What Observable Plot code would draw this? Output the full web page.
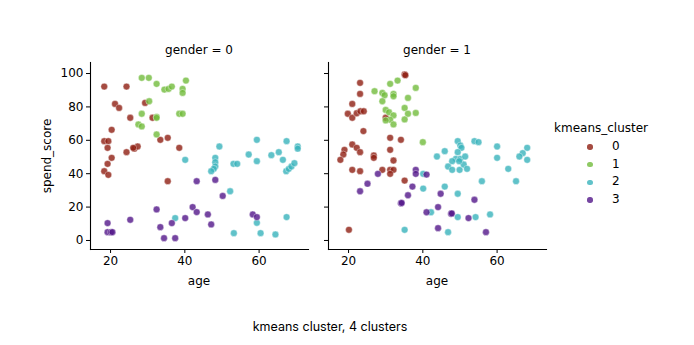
<!DOCTYPE html>
<html>
<head>
<meta charset="utf-8">
<script src="https://cdn.jsdelivr.net/npm/d3@7"></script>
<script src="https://cdn.jsdelivr.net/npm/@observablehq/plot@0.6"></script>
<style>
  body { margin: 0; background: #fff; }
  #wrap { position: relative; width: 694px; height: 345px; font-family: "DejaVu Sans", sans-serif; font-size: 12px; color: #000; }
  .abs { position: absolute; white-space: nowrap; }
  .panel { position: absolute; top: 0; }
</style>
</head>
<body>
<div id="wrap"></div>
<script>
// ---- data ----
const clusterLabels = ["0", "1", "2", "3"];
const clusterColors = ["#8e1e12", "#72bc3c", "#38b3bc", "#521689"];
const facetTitles = ["gender = 0", "gender = 1"];
const xTicks = [20, 40, 60];
const yTicks = [0, 20, 40, 60, 80, 100];

// gender = 0
const age_g0 = [
  18.3,24.3,21.2,22.3,29.3,25.3,31.3,20.3,18.3,19.4,19.2,33.4,35.4,38.5,26.4,27.3,26.1,24.3,20.3,19.2,18.3,19.4,35.4,
  28.4,30.3,32.4,34.5,35.6,36.5,40.3,39.4,39.4,30.4,28.4,32.4,32.4,38.5,39.4,27.5,28.4,32.4,
  40.1,37.4,49.3,48.2,48.2,48.2,47.8,47.1,53.1,54.1,57.2,59.4,59.4,63.3,65.3,66.4,67.4,70.4,70.4,67.3,68.0,68.7,69.5,52.2,59.4,67.4,53.2,60.4,64.4,
  19.2,19.2,20.1,20.5,25.3,32.4,33.4,34.4,36.5,37.4,40.1,43.2,42.1,43.2,46.2,47.1,48.2,50.2,58.3,59.4
];
const spend_g0 = [
  92.2,92.2,81.8,79.4,82.4,73.5,73.5,66.3,59.5,59.5,55.5,60.3,61.5,55.5,55,56.3,55.5,52.9,49.5,45.9,41.5,39.3,35.5,
  97.4,97.4,93.8,90.4,90.8,92.2,95.8,90.8,88.4,83.4,75.9,74,73.5,75.9,75.9,69.5,68.3,63.5,
  48.3,13.4,56.3,49.5,46.9,44.3,42.9,41.5,45.9,45.9,51.5,60.3,47.5,51.1,52.9,48.3,59.5,56.3,55,41.5,42.9,44.3,46.3,29.5,10.6,14,4.4,4.4,3.6,
  10.4,5,5,5,12.4,18.6,8,1.4,10.4,1.4,13.4,35.5,20,17,15.6,9.6,36.3,26.7,15.6,14
];
const cluster_g0 = [
  0,0,0,0,0,0,0,0,0,0,0,0,0,0,0,0,0,0,0,0,0,0,0,
  1,1,1,1,1,1,1,1,1,1,1,1,1,1,1,1,1,1,
  2,2,2,2,2,2,2,2,2,2,2,2,2,2,2,2,2,2,2,2,2,2,2,2,2,2,2,2,2,
  3,3,3,3,3,3,3,3,3,3,3,3,3,3,3,3,3,3,3,3
];

// gender = 1
const age_g1 = [
  35.1,35.3,23.1,23.1,21.0,19.8,21.0,22.2,23.2,24.1,24.0,30.0,31.2,34.1,31.2,18.9,18.6,17.8,21.0,22.2,23.1,26.8,26.8,32.1,21.0,23.1,29.1,31.2,32.1,31.2,35.1,20.1,
  27.0,29.1,29.7,32.1,32.1,31.2,33.2,38.1,36.0,29.1,35.1,30.0,30.9,32.1,31.2,32.1,30.0,36.0,38.1,35.1,40.0,
  40.1,40.1,35.1,49.4,50.1,50.4,49.4,48.9,50.1,51.4,53.9,55.0,60.0,60.0,45.9,43.8,47.9,46.8,47.9,49.9,51.0,51.9,49.8,68.1,66.9,66.0,68.1,63.0,65.1,55.9,45.9,49.4,42.2,49.4,54.2,58.1,46.8,
  27.9,38.1,38.1,25.1,23.1,37.2,36.0,34.1,34.3,41.0,41.0,44.8,44.1,47.6,47.8,53.9,52.3,44.1,57.0
];
const spend_g1 = [
  99.4,99,94.4,87.8,81.8,75.9,73.5,76.2,77.4,77.4,65.5,73.5,61.5,60.3,54.3,54.3,51.5,48.3,57.5,55.5,52.9,50.9,49.5,47.9,42.3,41.5,42.3,42.3,42.3,39.9,35.9,6.4,
  89.4,88.4,87,87.8,86.4,93.8,95.8,91.4,85.4,83.4,79.4,78.2,76.8,74.9,72.3,69.5,71.9,75.9,76.4,72.5,58.9,
  39.9,31.1,6.4,59.5,56.9,55.5,52.9,48.9,48.9,50.3,59.5,58.9,56.3,49.5,53.5,50.3,47.5,44.3,42.3,42.3,45.5,42.9,47.5,55.5,52.3,50.3,48.3,42.9,35.5,35.5,32.3,28,16.9,14,14,15.6,5,
  39.9,42.3,39.9,34,29.5,32.3,27.1,22.3,22.5,16.9,39.5,28,20,16,16.2,24.4,13.4,7.4,5
];
const cluster_g1 = [
  0,0,0,0,0,0,0,0,0,0,0,0,0,0,0,0,0,0,0,0,0,0,0,0,0,0,0,0,0,0,0,0,
  1,1,1,1,1,1,1,1,1,1,1,1,1,1,1,1,1,1,1,1,1,
  2,2,2,2,2,2,2,2,2,2,2,2,2,2,2,2,2,2,2,2,2,2,2,2,2,2,2,2,2,2,2,2,2,2,2,2,2,
  3,3,3,3,3,3,3,3,3,3,3,3,3,3,3,3,3,3,3
];

// ---- build ----
const wrap = document.getElementById("wrap");
function rows(ages, spends, clusters) {
  return ages.map((a, i) => ({age: a, spend: spends[i], cluster: String(clusters[i])}));
}
const panels = [rows(age_g0, spend_g0, cluster_g0), rows(age_g1, spend_g1, cluster_g1)];
const panelLeft = [0, 238];

panels.forEach((data, p) => {
  const chart = Plot.plot({
    width: 310, height: 300,
    marginLeft: 90, marginRight: 2, marginTop: 62, marginBottom: 51,
    style: {fontFamily: "DejaVu Sans, sans-serif", fontSize: "12px", color: "#000", background: "transparent", overflow: "visible"},
    x: {domain: [14.6, 73.3]},
    y: {domain: [-5.4, 106.6]},
    color: {domain: clusterLabels, range: clusterColors},
    marks: [
      Plot.frame({anchor: "left", stroke: "#000", strokeWidth: 1.1}),
      Plot.frame({anchor: "bottom", stroke: "#000", strokeWidth: 1.1}),
      Plot.axisX(xTicks, {tickSize: 4, tickPadding: 3, label: null, fontSize: 12}),
      p === 0
        ? Plot.axisY(yTicks, {tickSize: 4, tickPadding: 3, label: null, fontSize: 12})
        : Plot.axisY(yTicks, {tickSize: 4, tickFormat: () => "", label: null}),
      Plot.dot(data, {x: "age", y: "spend", fill: "cluster", r: 3.4, fillOpacity: 0.8, stroke: "#fff", strokeWidth: 0.4})
    ]
  });
  chart.classList.add("panel");
  chart.style.left = panelLeft[p] + "px";
  wrap.appendChild(chart);

  const t = document.createElement("div");
  t.className = "abs";
  t.textContent = facetTitles[p];
  t.style.left = (panelLeft[p] + 199) + "px";
  t.style.top = "43px";
  t.style.transform = "translateX(-50%)";
  wrap.appendChild(t);

  const xl = document.createElement("div");
  xl.className = "abs";
  xl.textContent = "age";
  xl.style.left = (panelLeft[p] + 199) + "px";
  xl.style.top = "274px";
  xl.style.transform = "translateX(-50%)";
  wrap.appendChild(xl);
});

const yl = document.createElement("div");
yl.className = "abs";
yl.textContent = "spend_score";
yl.style.left = "47px";
yl.style.top = "156px";
yl.style.transform = "translate(-50%, -50%) rotate(-90deg)";
wrap.appendChild(yl);

// legend
const lt = document.createElement("div");
lt.className = "abs";
lt.textContent = "kmeans_cluster";
lt.style.left = "554px";
lt.style.top = "121px";
wrap.appendChild(lt);
clusterLabels.forEach((c, i) => {
  const y = 147 + i * 17.7;
  const dot = document.createElement("div");
  dot.className = "abs";
  dot.style.left = (590 - 2.7) + "px";
  dot.style.top = (y - 2.7) + "px";
  dot.style.width = "5.4px";
  dot.style.height = "5.4px";
  dot.style.borderRadius = "50%";
  dot.style.background = clusterColors[i];
  dot.style.opacity = "0.8";
  wrap.appendChild(dot);
  const lab = document.createElement("div");
  lab.className = "abs";
  lab.textContent = c;
  lab.style.left = "612px";
  lab.style.top = (y - 8) + "px";
  wrap.appendChild(lab);
});

// caption
const cap = document.createElement("div");
cap.className = "abs";
cap.textContent = "kmeans cluster, 4 clusters";
cap.style.left = "330px";
cap.style.top = "319px";
cap.style.transform = "translateX(-50%)";
cap.style.fontFamily = "Inter, sans-serif";
cap.style.fontSize = "12.5px";
wrap.appendChild(cap);
</script>
</body>
</html>
